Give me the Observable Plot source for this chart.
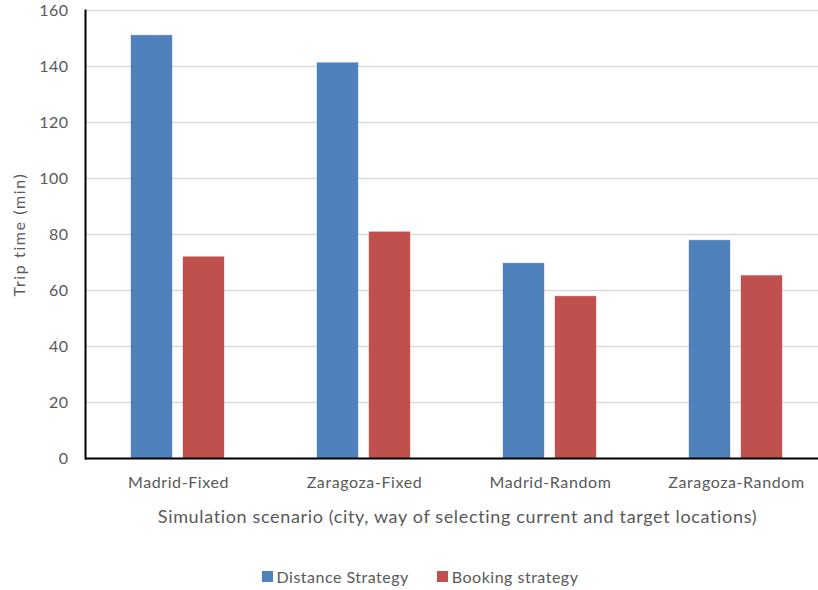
<!DOCTYPE html>
<html>
<head>
<meta charset="utf-8">
<script src="https://cdn.jsdelivr.net/npm/d3@7"></script>
<script src="https://cdn.jsdelivr.net/npm/@observablehq/plot@0.6"></script>
<style>
  html, body { margin: 0; padding: 0; background: #fff; }
  #chart { width: 818px; height: 590px; overflow: hidden; position: relative; font-family: Lato, sans-serif; }
  #plot svg { max-width: none !important; }
  #legend { position: absolute; left: 0; top: 560px; width: 818px; }
  .lg-swatches { justify-content: center; padding-left: 50px; margin: 0 !important; min-height: 33px; }
  .lg-swatch { margin-right: 28px !important; font-size: 16px; letter-spacing: 0.5px; color: #595959; font-family: Lato, sans-serif; }
  .lg-swatch > svg { margin-right: 4px !important; }
  [aria-label="y-axis tick label"] { letter-spacing: 0.5px; }
  [aria-label="fx-axis tick label"] { letter-spacing: 0.6px; }
  [aria-label="y-axis label"] { letter-spacing: 1.6px; }
  [aria-label="fx-axis label"] { letter-spacing: 0.65px; }
</style>
</head>
<body>
<div id="chart"><div id="plot"></div><div id="legend"></div></div>
<script>
// Scenarios on the x axis and the two routing strategies compared in each
const categories = ["Madrid-Fixed", "Zaragoza-Fixed", "Madrid-Random", "Zaragoza-Random"];
const seriesNames = ["Distance Strategy", "Booking strategy"];
const distanceValues = [151, 141.2, 69.6, 77.8];
const bookingValues = [71.9, 80.8, 57.8, 65.2];
const yTicks = [0, 20, 40, 60, 80, 100, 120, 140, 160];
const seriesColors = ["#4F81BD", "#C0504D"];

const rows = categories.flatMap((c, i) => [
  {category: c, series: seriesNames[0], value: distanceValues[i]},
  {category: c, series: seriesNames[1], value: bookingValues[i]}
]);

const textColor = "#595959";

const chart = Plot.plot({
  width: 830,
  height: 530,
  marginTop: 10,
  marginLeft: 84,
  marginRight: 0,
  marginBottom: 72,
  style: {fontFamily: "Lato, sans-serif", color: textColor, background: "white", overflow: "hidden"},
  fx: {domain: categories, padding: 0},
  x: {domain: seriesNames, paddingInner: 0.2075, paddingOuter: 0.863, axis: null},
  y: {domain: [0, 160]},
  color: {domain: seriesNames, range: seriesColors},
  marks: [
    Plot.gridY(yTicks, {stroke: "#d9d9d9", strokeOpacity: 1, strokeWidth: 1.5}),
    Plot.barY(rows, {
      fx: "category", x: "series", y: "value", fill: "series",
      stroke: "series", strokeOpacity: 0.35, strokeWidth: 1, inset: 0
    }),
    Plot.ruleY([0], {stroke: "black", strokeWidth: 2}),
    Plot.frame({anchor: "left", facetAnchor: "left", stroke: "black", strokeWidth: 2}),
    Plot.axisY(yTicks, {
      tickSize: 0, tickPadding: 17, fontSize: 16,
      label: "Trip time (min)", labelAnchor: "center", labelArrow: "none", labelOffset: 72
    }),
    Plot.axisFx({
      anchor: "bottom", tickSize: 0, tickPadding: 18, fontSize: 16, label: null
    }),
    Plot.axisFx({
      anchor: "bottom", ticks: [], tickSize: 0, fontSize: 18,
      label: "Simulation scenario (city, way of selecting current and target locations)",
      labelAnchor: "center", labelArrow: "none", labelOffset: 64
    })
  ]
});

document.getElementById("plot").appendChild(chart);

const legend = Plot.legend({
  color: {domain: seriesNames, range: seriesColors},
  swatchSize: 11,
  className: "lg"
});
document.getElementById("legend").appendChild(legend);
</script>
</body>
</html>
